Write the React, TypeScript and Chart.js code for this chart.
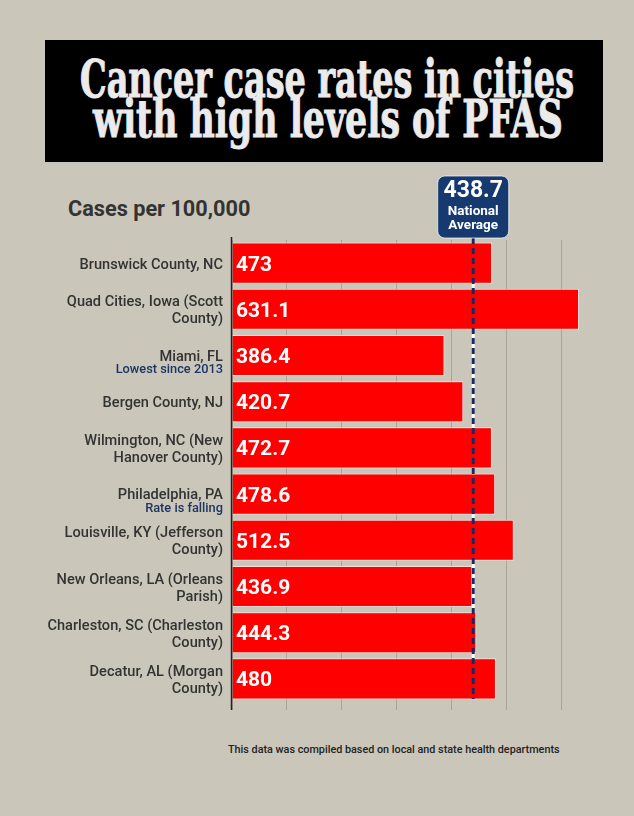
import React, { useEffect, useLayoutEffect, useRef } from "react";
import { Chart, registerables } from "chart.js";

Chart.register(...registerables);

const categoryLines: string[][] = [
  ["Brunswick County, NC"],
  ["Quad Cities, Iowa (Scott", "County)"],
  ["Miami, FL"],
  ["Bergen County, NJ"],
  ["Wilmington, NC (New", "Hanover County)"],
  ["Philadelphia, PA"],
  ["Louisville, KY (Jefferson", "County)"],
  ["New Orleans, LA (Orleans", "Parish)"],
  ["Charleston, SC (Charleston", "County)"],
  ["Decatur, AL (Morgan", "County)"],
];
const categoryNotes: string[] = ["", "", "Lowest since 2013", "", "", "Rate is falling", "", "", "", ""];
const caseRates: number[] = [473, 631.1, 386.4, 420.7, 472.7, 478.6, 512.5, 436.9, 444.3, 480];
const valueLabels: string[] = ["473", "631.1", "386.4", "420.7", "472.7", "478.6", "512.5", "436.9", "444.3", "480"];
const nationalAverage = 438.7;
const nationalAverageLabel = "438.7";
const xTickValues: number[] = [0, 100, 200, 300, 400, 500, 600];
const xMax = 650;

const BG = "#cac7ba";
const NAVY = "#163a70";
const LABEL = "#333333";

const decorPlugin = {
  id: "decor",
  beforeDatasetsDraw(chart: any) {
    const { ctx, chartArea, scales } = chart;
    const x = scales.x.getPixelForValue(nationalAverage);
    ctx.save();
    ctx.strokeStyle = "#ffffff";
    ctx.lineWidth = 3;
    ctx.beginPath();
    ctx.moveTo(x, chartArea.top - 2);
    ctx.lineTo(x, chartArea.bottom - 3);
    ctx.stroke();
    ctx.restore();
  },
  afterDatasetsDraw(chart: any) {
    const { ctx, chartArea, scales } = chart;
    const meta = chart.getDatasetMeta(0);
    const ax = scales.x.getPixelForValue(nationalAverage);
    ctx.save();
    ctx.strokeStyle = "#1b2a5e";
    ctx.lineWidth = 3;
    ctx.setLineDash([6, 4]);
    ctx.beginPath();
    ctx.moveTo(ax, chartArea.top - 2);
    ctx.lineTo(ax, chartArea.bottom - 3);
    ctx.stroke();
    ctx.setLineDash([]);

    ctx.strokeStyle = "#222222";
    ctx.lineWidth = 1.5;
    ctx.beginPath();
    ctx.moveTo(chartArea.left - 0.5, chartArea.top - 3);
    ctx.lineTo(chartArea.left - 0.5, chartArea.bottom + 8);
    ctx.stroke();

    meta.data.forEach((bar: any, i: number) => {
      const cy = bar.y;
      ctx.fillStyle = "#ffffff";
      ctx.font = "bold 21px Roboto";
      ctx.textAlign = "left";
      ctx.textBaseline = "alphabetic";
      ctx.fillText(valueLabels[i], chartArea.left + 4, cy + 7.5);

      const lines = categoryLines[i];
      const note = categoryNotes[i];
      const rx = chartArea.left - 9;
      ctx.textAlign = "right";
      ctx.fillStyle = LABEL;
      ctx.font = "500 14.6px Roboto";
      if (note) {
        ctx.fillText(lines[0], rx, cy + 5);
        ctx.fillStyle = "#1c3563";
        ctx.font = "500 12.8px Roboto";
        ctx.fillText(note, rx, cy + 17.5);
      } else if (lines.length === 1) {
        ctx.fillText(lines[0], rx, cy + 5.5);
      } else {
        ctx.fillText(lines[0], rx, cy - 3);
        ctx.fillText(lines[1], rx, cy + 14);
      }
    });

    const bw = 71, bh = 62;
    const bx = ax - bw / 2;
    const by = chartArea.top - 64;
    ctx.fillStyle = NAVY;
    ctx.strokeStyle = "rgba(255,255,255,0.7)";
    ctx.lineWidth = 1;
    ctx.beginPath();
    (ctx as any).roundRect(bx, by, bw, bh, 7);
    ctx.fill();
    ctx.stroke();
    ctx.fillStyle = "#ffffff";
    ctx.textAlign = "center";
    ctx.font = "bold 23px Roboto";
    ctx.fillText(nationalAverageLabel, ax, by + 21);
    ctx.font = "bold 13.5px Roboto";
    ctx.fillText("National", ax, by + 39);
    ctx.fillText("Average", ax, by + 53);
    ctx.restore();
  },
};

function TitleLine({ text, top, target, center }: { text: string; top: number; target: number; center: number }) {
  const ref = useRef<HTMLSpanElement>(null);
  useLayoutEffect(() => {
    const el = ref.current;
    if (!el) return;
    const w = el.offsetWidth;
    const s = target / w;
    el.style.transform = `scaleX(${s})`;
  }, [text, target]);
  return (
    <span
      ref={ref}
      style={{
        position: "absolute",
        left: center - target / 2,
        top,
        display: "inline-block",
        whiteSpace: "nowrap",
        fontFamily: "'DejaVu Serif Condensed', 'DejaVu Serif', serif",
        fontWeight: "bold",
        fontSize: 53,
        lineHeight: "53px",
        color: "#ebebeb",
        WebkitTextStroke: "1px #ebebeb",
        transformOrigin: "0 0",
      }}
    >
      {text}
    </span>
  );
}

export default function App() {
  const canvasRef = useRef<HTMLCanvasElement>(null);

  useEffect(() => {
    const canvas = canvasRef.current;
    if (!canvas) return;
    const chart = new Chart(canvas, {
      type: "bar",
      data: {
        labels: categoryLines.map((l) => l.join(" ")),
        datasets: [
          {
            data: caseRates,
            backgroundColor: "#ff0000",
            borderColor: "rgba(255,225,225,0.85)",
            borderWidth: 1,
            barPercentage: 0.89,
            categoryPercentage: 1,
          },
        ],
      },
      options: {
        indexAxis: "y",
        animation: false,
        responsive: false,
        devicePixelRatio: 1,
        layout: { padding: { left: 0, right: 44.6, top: 70, bottom: 20 } },
        plugins: { legend: { display: false }, tooltip: { enabled: false }, title: { display: false } },
        scales: {
          x: {
            min: 0,
            max: xMax,
            afterBuildTicks: (scale: any) => {
              scale.ticks = xTickValues.map((v) => ({ value: v }));
            },
            ticks: { display: false },
            grid: { color: "#a8a69b", lineWidth: 1, drawTicks: true, tickLength: 8 },
            border: { display: false },
          },
          y: {
            ticks: { display: false },
            grid: { display: false },
            border: { display: false },
            afterFit: (scale: any) => {
              scale.width = 232;
            },
          },
        },
      },
      plugins: [decorPlugin],
    });
    return () => chart.destroy();
  }, []);

  return (
    <div
      style={{
        position: "absolute",
        left: 0,
        top: 0,
        width: 634,
        height: 816,
        background: BG,
        overflow: "hidden",
        fontFamily: "Roboto, sans-serif",
      }}
    >
      <div style={{ position: "absolute", left: 45, top: 40, width: 558, height: 122, background: "#000" }} />
      <TitleLine text="Cancer case rates in cities" top={52} target={494} center={326.5} />
      <TitleLine text="with high levels of PFAS" top={92} target={470} center={327.5} />
      <div
        style={{
          position: "absolute",
          left: 68,
          top: 198,
          fontSize: 21.7,
          lineHeight: "21px",
          fontWeight: 700,
          color: LABEL,
          whiteSpace: "nowrap",
        }}
      >
        Cases per 100,000
      </div>
      <canvas
        ref={canvasRef}
        width={634}
        height={560}
        style={{ position: "absolute", left: 0, top: 170, width: 634, height: 560 }}
      />
      <div
        style={{
          position: "absolute",
          left: 228,
          top: 744,
          fontSize: 10.8,
          lineHeight: "11px",
          fontWeight: 500,
          color: "#222",
          whiteSpace: "nowrap",
        }}
      >
        This data was compiled based on local and state health departments
      </div>
    </div>
  );
}
